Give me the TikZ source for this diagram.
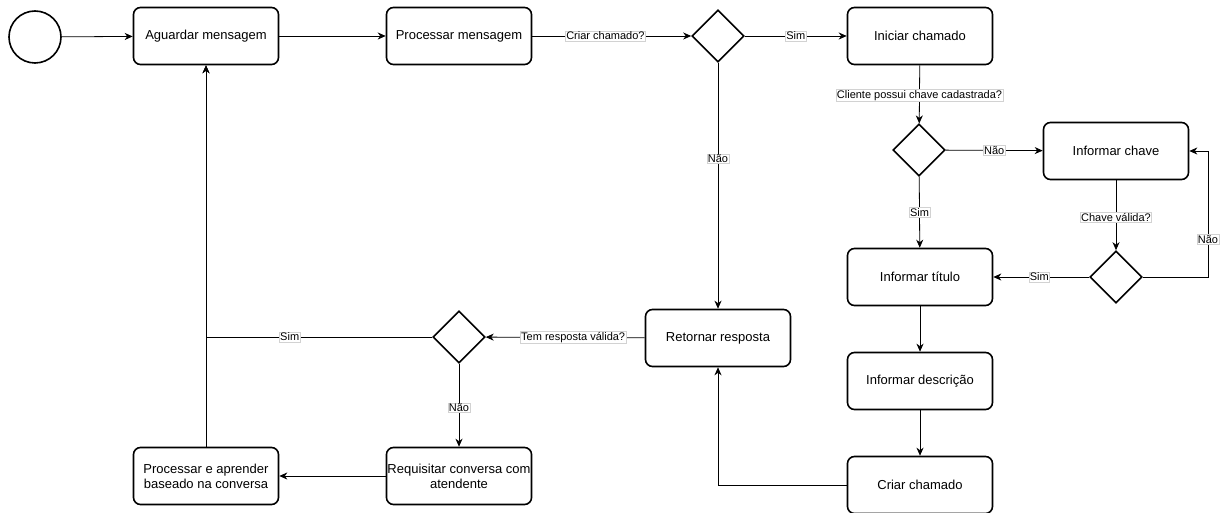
\documentclass[tikz,border=0pt]{standalone}
\usepackage{fontspec}
\setmainfont{Liberation Sans}
\usetikzlibrary{shapes.geometric,arrows.meta}
\tikzset{
  box/.style={draw, line width=1.6pt, rounded corners=7pt, minimum width=145pt, minimum height=57pt, align=center, font=\fontsize{13}{15}\selectfont, inner sep=1pt},
  dec/.style={draw, line width=1.6pt, diamond, aspect=1, minimum width=52pt, minimum height=52pt, inner sep=0pt},
  startev/.style={draw, line width=1.6pt, circle, minimum size=52pt, inner sep=0pt},
  conn/.style={line width=0.8pt, -{Stealth[length=8pt,width=7pt,inset=2.5pt]}},
  lbl/.style={fill=white, draw=gray!35, line width=0.4pt, inner sep=0.8pt, font=\fontsize{11}{12}\selectfont}
}
\begin{document}
\begin{tikzpicture}[x=1pt,y=-1pt]
\useasboundingbox (0,0) rectangle (1230,513);
\node[startev] (start) at (35,37) {};
\node[box] (aguardar) at (206,36) {Aguardar mensagem};
\node[box] (processar) at (459,36) {Processar mensagem};
\node[dec] (d1) at (718,36) {};
\node[box] (iniciar) at (920,36) {Iniciar chamado};
\node[dec] (d2) at (919,150) {};
\node[box] (infchave) at (1116,151) {Informar chave};
\node[box] (inftitulo) at (920,277) {Informar título};
\node[dec] (d3) at (1116,277) {};
\node[box] (infdesc) at (920,381) {Informar descrição};
\node[box] (criar) at (920,485) {Criar chamado};
\node[box] (retornar) at (718,338) {Retornar resposta};
\node[dec] (d4) at (459,337) {};
\node[box] (aprender) at (206,476) {Processar e aprender\\baseado na conversa};
\node[box] (requisitar) at (459,476) {Requisitar conversa com\\atendente};
\coordinate (c1) at (1208,277);
\coordinate (c2) at (1208,151);
\coordinate (c3) at (718,485);
\coordinate (c4) at (206,337);

\draw[conn] (start) -- (aguardar);
\draw[conn] (aguardar) -- (processar);
\draw[conn] (processar) -- node[lbl, pos=0.46] {Criar chamado?} (d1);
\draw[conn] (d1) -- node[lbl] {Sim} (iniciar);
\draw[conn] (d1) -- node[lbl, pos=0.39] {Não} (retornar);
\draw[conn] (iniciar) -- node[lbl, pos=0.52] {Cliente possui chave cadastrada?} (d2);
\draw[conn] (d2) -- node[lbl] {Não} (infchave);
\draw[conn] (d2) -- node[lbl, pos=0.5] {Sim} (inftitulo);
\draw[conn] (infchave) -- node[lbl, pos=0.53] {Chave válida?} (d3);
\draw[conn] (d3) -- node[lbl, pos=0.52] {Sim} (inftitulo);
\draw[conn] (d3.east) -- (c1) -- node[lbl, pos=0.3] {Não} (c2) -- (infchave.east);
\draw[conn] (inftitulo) -- (infdesc);
\draw[conn] (infdesc) -- (criar);
\draw[conn] (criar.west) -- (c3) -- (retornar.south);
\draw[conn] (retornar) -- node[lbl, pos=0.45] {Tem resposta válida?} (d4);
\draw[conn] (d4.west) -- node[lbl, pos=0.63] {Sim} (c4) -- (aguardar.south);
\draw[conn] (d4) -- node[lbl, pos=0.53] {Não} (requisitar);
\draw[conn] (requisitar) -- (aprender);
\draw[conn] (aprender) -- (aguardar);
\end{tikzpicture}
\end{document}
